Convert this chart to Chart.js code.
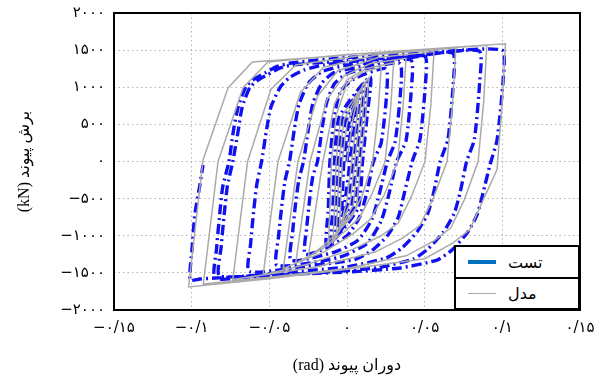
<!DOCTYPE html>
<html lang="fa">
<head>
    <meta charset="UTF-8">
    <title>برش پیوند - دوران پیوند</title>
    <script src="https://cdn.jsdelivr.net/npm/chart.js"></script>
    <style>
        body { margin: 0; background: #fff; }
        #wrap { position: relative; width: 597px; height: 381px; }
        #legend {
            position: absolute; width: 122px; height: 61px;
            border: 2px solid #000; background: #fff;
            font-family: 'DejaVu Sans', sans-serif; font-size: 16px;
        }
        #legend .row { display: flex; align-items: center; height: 30px; padding-left: 12px; }
        #legend .row + .row { border-top: 2px solid #000; height: 29px; }
        #legend .sw { display: inline-block; width: 28px; margin-right: 12px; }
    </style>
</head>
<body>
<div id="wrap">
    <canvas id="chart" width="597" height="381"></canvas>
    <div id="legend">
        <div class="row"><span class="sw" style="border-top: 4px solid #0070c0;"></span><span>تست</span></div>
        <div class="row"><span class="sw" style="border-top: 1.5px solid #aaaaaa;"></span><span>مدل</span></div>
    </div>
</div>

<script>
    // tick labels (Persian digits)
    const xTickValues = [-0.15, -0.1, -0.05, 0, 0.05, 0.1, 0.15];
    const xTickLabels = ['−۰/۱۵', '−۰/۱', '−۰/۰۵', '۰', '۰/۰۵', '۰/۱', '۰/۱۵'];
    const yTickValues = [-2000, -1500, -1000, -500, 0, 500, 1000, 1500, 2000];
    const yTickLabels = ['−۲۰۰۰', '−۱۵۰۰', '−۱۰۰۰', '−۵۰۰', '۰', '۵۰۰', '۱۰۰۰', '۱۵۰۰', '۲۰۰۰'];

    // test: [rotation (rad), shear (kN)]
    const testInner = [
        [0, 0], [0.003, 500],
        [0.007, 900], [0.005, 495], [0.002, 0], [-0.001, -495], [-0.004, -900], [-0.003, -495], [-0.002, 0], [0.001, 495],
        [0.009, 980], [0.007, 540], [0.004, 0], [0.001, -540], [-0.006, -980], [-0.005, -540], [-0.004, 0], [-0.001, 540],
        [0.011, 1040], [0.009, 570], [0.006, 0], [0.003, -570], [-0.008, -1040], [-0.007, -570], [-0.006, 0], [-0.003, 570],
        [0.013, 1090], [0.011, 600], [0.008, 0], [0.005, -600], [-0.010, -1090], [-0.009, -600], [-0.008, 0], [-0.005, 600],
        [0.015, 1140], [0.013, 630], [0.010, 0], [0.007, -630], [-0.013, -1140], [-0.012, -630], [-0.011, 0], [-0.008, 630],
        [-0.004, 950], [0.005, 1120]
    ];
    const testOuter = [
        [0.025, 1250], [0.0255, 900], [0.022, 250], [0.017, 0], [0.013, -400], [0.008, -750], [0.0, -1000], [-0.012, -1150], [-0.027, -1250],
        [-0.026, -900], [-0.024, -500], [-0.022, -200], [-0.019, 0], [-0.016, 450], [-0.013, 800], [-0.008, 1050], [0.0, 1180], [0.010, 1240],
        [0.034, 1320], [0.0345, 950], [0.031, 270], [0.026, 0], [0.021, -420], [0.016, -780], [0.007, -1060], [-0.008, -1220], [-0.036, -1330],
        [-0.035, -950], [-0.033, -550], [-0.031, -250], [-0.028, 0], [-0.025, 420], [-0.022, 780], [-0.016, 1060], [-0.008, 1200], [0.010, 1280],
        [0.041, 1370], [0.0415, 1000], [0.038, 280], [0.032, 0], [0.027, -440], [0.022, -800], [0.013, -1100], [-0.005, -1290], [-0.045, -1400],
        [-0.044, -1000], [-0.042, -600], [-0.040, -270], [-0.037, 0], [-0.034, 420], [-0.031, 760], [-0.025, 1050], [-0.016, 1210], [0.0, 1300], [0.020, 1340],
        [0.050, 1420], [0.0505, 1050], [0.047, 300], [0.042, 0], [0.037, -420], [0.033, -750], [0.026, -1000], [0.016, -1200], [0.005, -1320], [-0.030, -1420], [-0.063, -1480],
        [-0.062, -1100], [-0.060, -650], [-0.058, -300], [-0.055, 0], [-0.052, 400], [-0.049, 730], [-0.043, 1000], [-0.037, 1130], [-0.028, 1230], [-0.015, 1300], [0.010, 1360], [0.040, 1400],
        [0.068, 1460], [0.0685, 1080], [0.065, 300], [0.060, 0], [0.056, -400], [0.052, -700], [0.045, -950], [0.035, -1170], [0.025, -1300], [0.0, -1420], [-0.040, -1490], [-0.082, -1540],
        [-0.081, -1150], [-0.079, -700], [-0.077, -330], [-0.0735, 0], [-0.070, 420], [-0.0675, 730], [-0.0625, 1000], [-0.057, 1100], [-0.0515, 1165], [-0.043, 1260], [-0.035, 1300], [0.0, 1360], [0.040, 1410],
        [0.085, 1490], [0.0855, 1100], [0.082, 300], [0.077, 0], [0.073, -400], [0.069, -700], [0.062, -950], [0.052, -1180], [0.043, -1310], [0.020, -1430], [-0.020, -1500], [-0.060, -1550], [-0.085, -1570],
        [-0.084, -1180], [-0.082, -720], [-0.080, -340], [-0.076, 0], [-0.073, 430], [-0.070, 740], [-0.065, 1010], [-0.059, 1120], [-0.053, 1190], [-0.045, 1280], [-0.035, 1330], [0.0, 1400], [0.050, 1460],
        [0.0998, 1500], [0.1005, 1100], [0.0966, 290], [0.092, -47], [0.0876, -424], [0.0837, -720], [0.0773, -963], [0.0676, -1192], [0.058, -1327], [0.034, -1434], [0.0, -1488], [-0.0625, -1542], [-0.0947, -1582], [-0.101, -1596],
        [-0.0998, -1192], [-0.098, -720], [-0.0947, -316], [-0.0927, -47]
    ];

    // model: [rotation (rad), shear (kN)]
    const modelInner = [
        [0, 0], [0.004, 600],
        [0.008, 950], [0.006, 520], [0.003, 0], [0.0, -520], [-0.005, -950], [-0.004, -520], [-0.003, 0], [0.0, 520],
        [0.010, 1020], [0.008, 560], [0.005, 0], [0.002, -560], [-0.007, -1020], [-0.006, -560], [-0.005, 0], [-0.002, 560],
        [0.012, 1080], [0.010, 590], [0.007, 0], [0.004, -590], [-0.009, -1080], [-0.008, -590], [-0.007, 0], [-0.004, 590],
        [0.014, 1130], [0.012, 620], [0.009, 0], [0.006, -620], [-0.012, -1130], [-0.011, -620], [-0.010, 0], [-0.007, 620],
        [0.0, 1050], [0.010, 1200]
    ];
    const modelOuter = [
        [0.022, 1270], [0.020, 660], [0.0165, 0], [0.010, -450], [0.003, -750], [-0.006, -950], [-0.015, -1130], [-0.025, -1290],
        [-0.0155, 0], [-0.008, 780], [0.0, 1100], [0.012, 1250],
        [0.030, 1330], [0.028, 690], [0.0245, 0], [0.016, -440], [0.008, -760], [-0.002, -950], [-0.016, -1180], [-0.033, -1370],
        [-0.0238, 0], [-0.013, 830], [-0.002, 1150], [0.015, 1320],
        [0.038, 1390], [0.036, 720], [0.0325, 0], [0.024, -450], [0.015, -780], [0.004, -970], [-0.015, -1220], [-0.041, -1440],
        [-0.0316, 0], [-0.019, 880], [-0.006, 1220], [0.020, 1400],
        [0.056, 1480], [0.054, 770], [0.0502, 0], [0.0415, -470], [0.033, -830], [0.022, -1000], [0.004, -1180], [-0.025, -1380], [-0.054, -1530],
        [-0.0444, 0], [-0.030, 930], [-0.015, 1270], [0.020, 1440],
        [0.070, 1530], [0.068, 790], [0.0644, 0], [0.0556, -490], [0.047, -860], [0.036, -1030], [0.018, -1220], [-0.020, -1420], [-0.0735, -1590],
        [-0.064, 0], [-0.049, 970], [-0.033, 1300], [0.020, 1460],
        [0.090, 1565], [0.088, 810], [0.0844, 0], [0.0756, -510], [0.067, -890], [0.056, -1070], [0.038, -1270], [0.0, -1440], [-0.050, -1560], [-0.0925, -1650],
        [-0.083, 0], [-0.067, 990], [-0.051, 1340], [0.0, 1440],
        [0.102, 1585], [0.100, 830], [0.0966, -110], [0.0876, -520], [0.079, -920], [0.068, -1100], [0.050, -1310], [0.0, -1450], [-0.050, -1580], [-0.102, -1690],
        [-0.0927, 20], [-0.0766, 990], [-0.061, 1340], [0.0, 1430]
    ];

    const toXY = arr => arr.map(p => ({ x: p[0], y: p[1] }));
    const labelFor = (vals, labels, v) => {
        const i = vals.findIndex(t => Math.abs(t - v) < 1e-9);
        return i >= 0 ? labels[i] : '';
    };

    const tickFont = { family: "'DejaVu Sans', sans-serif", size: 15 };
    const titleFont = { family: "'Liberation Serif', 'DejaVu Sans', serif", size: 16 };

    const frame = {
        id: 'frame',
        afterDraw(chart) {
            const { ctx, chartArea: a } = chart;
            ctx.save();
            ctx.strokeStyle = '#000';
            ctx.lineWidth = 2;
            ctx.strokeRect(a.left, a.top, a.right - a.left, a.bottom - a.top);
            ctx.restore();
            const lg = document.getElementById('legend');
            lg.style.left = (a.right - 126) + 'px';
            lg.style.top = (a.bottom - 65) + 'px';
        }
    };

    new Chart(document.getElementById('chart'), {
        type: 'scatter',
        data: {
            datasets: [
                {
                    label: 'تست',
                    data: toXY(testInner.concat(testOuter)),
                    showLine: true,
                    borderColor: '#1010f0',
                    borderWidth: 3.4,
                    borderDash: [10, 4, 2, 4],
                    tension: 0.2,
                    pointRadius: 0,
                    order: 2
                },
                {
                    label: 'مدل',
                    data: toXY(modelInner.concat(modelOuter)),
                    showLine: true,
                    borderColor: '#aaaaaa',
                    borderWidth: 1.5,
                    tension: 0,
                    pointRadius: 0,
                    order: 1
                }
            ]
        },
        options: {
            responsive: false,
            animation: false,
            devicePixelRatio: 1,
            layout: { padding: { left: 0, right: 17, top: 13, bottom: 0 } },
            plugins: { legend: { display: false }, tooltip: { enabled: false } },
            scales: {
                x: {
                    type: 'linear',
                    min: -0.15, max: 0.15,
                    afterFit: s => { s.height = 71; s.paddingLeft = 0; s.paddingRight = 0; },
                    ticks: {
                        stepSize: 0.05,
                        color: '#000',
                        font: tickFont,
                        padding: 9,
                        maxRotation: 0,
                        callback: v => labelFor(xTickValues, xTickLabels, v)
                    },
                    grid: { color: '#b4b4b4', lineWidth: 1, drawTicks: false },
                    border: { display: false, dash: [1.5, 3] },
                    title: {
                        display: true,
                        text: '\u202Bدوران پیوند (rad)\u202C',
                        color: '#000',
                        font: titleFont,
                        padding: { top: 0, bottom: 6 }
                    }
                },
                y: {
                    min: -2000, max: 2000,
                    afterFit: s => { s.width = 114; s.paddingTop = 0; s.paddingBottom = 0; },
                    ticks: {
                        stepSize: 500,
                        color: '#000',
                        font: tickFont,
                        padding: 9,
                        callback: v => labelFor(yTickValues, yTickLabels, v)
                    },
                    grid: { color: '#b4b4b4', lineWidth: 1, drawTicks: false },
                    border: { display: false, dash: [1.5, 3] },
                    title: {
                        display: true,
                        text: '\u202Bبرش پیوند (kN)\u202C',
                        color: '#000',
                        font: titleFont,
                        padding: { top: 15, bottom: 0 }
                    }
                }
            }
        },
        plugins: [frame]
    });
</script>
</body>
</html>
